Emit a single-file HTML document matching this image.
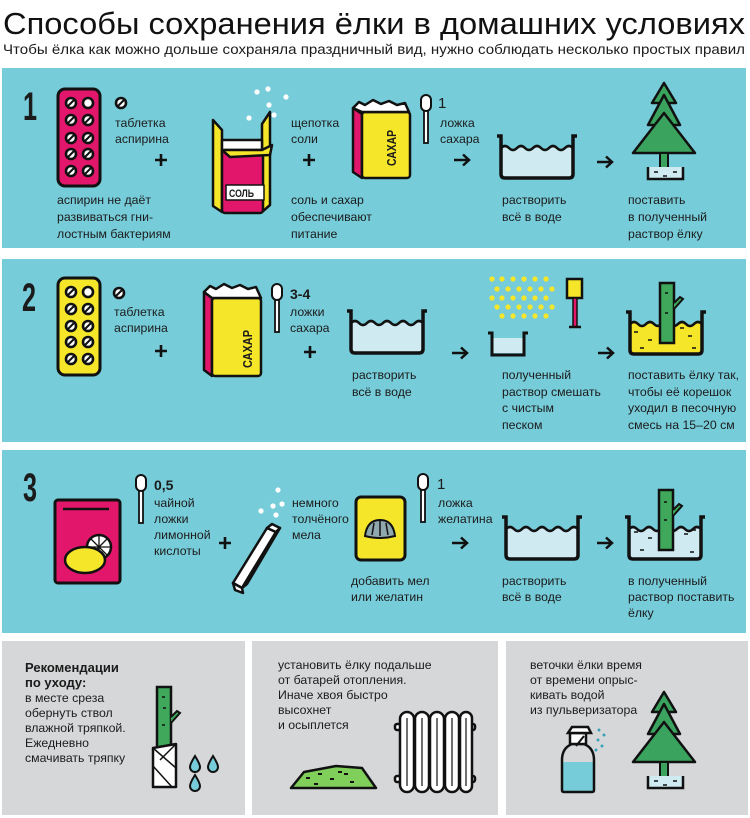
<!DOCTYPE html>
<html><head><meta charset="utf-8"><style>
html,body{margin:0;padding:0;background:#fff}
svg{display:block}
text{font-family:"Liberation Sans","Noto Sans CJK SC",sans-serif;fill:#1b1b1b}
.t{font-size:12.3px}
.n{font-size:40px;font-weight:bold}
</style></head><body>
<svg width="750" height="818" viewBox="0 0 750 818" xmlns="http://www.w3.org/2000/svg">
<defs>
<g id="pot">
<path d="M4,14 q4,-4 8,0 t8,0 t8,0 t8,0 t8,0 t8,0 t8,0 t8,0 t8,0 V40 q0,4 -4,4 H8 q-4,0 -4,-4 Z" fill="#cfeaf1"/>
<path d="M4,14 q4,-4 8,0 t8,0 t8,0 t8,0 t8,0 t8,0 t8,0 t8,0 t8,0" fill="none" stroke="#111" stroke-width="2.5"/>
<path d="M0,2 H4 V40 q0,4 4,4 H72 q4,0 4,-4 V2 H80" fill="none" stroke="#111" stroke-width="3.5"/>
</g>
<g id="potY">
<path d="M4,14 q4,-4 8,0 t8,0 t8,0 t8,0 t8,0 t8,0 t8,0 t8,0 t8,0 V40 q0,4 -4,4 H8 q-4,0 -4,-4 Z" fill="#f5e629"/>
<path d="M4,14 q4,-4 8,0 t8,0 t8,0 t8,0 t8,0 t8,0 t8,0 t8,0 t8,0" fill="none" stroke="#111" stroke-width="2.5"/>
<path d="M0,2 H4 V40 q0,4 4,4 H72 q4,0 4,-4 V2 H80" fill="none" stroke="#111" stroke-width="3.5"/>
</g>
<g id="spoon">
<rect x="0" y="0" width="10" height="16" rx="5" fill="#fff" stroke="#111" stroke-width="2"/>
<rect x="3" y="16" width="4" height="32" fill="#fff" stroke="#111" stroke-width="1.8"/>
</g>
<path id="arrow" d="M0,0 h15 M9,-5.5 l6,5.5 -6,5.5" fill="none" stroke="#111" stroke-width="2.5"/>
<path id="plus" d="M-6,0 h12 M0,-6 v12" fill="none" stroke="#111" stroke-width="2.6"/>
<g id="pill"><circle r="5" fill="#fff" stroke="#111" stroke-width="2.6"/><path d="M-3,3 L3,-3" stroke="#111" stroke-width="2"/></g>
<g id="tree">
<polygon points="31,0 19,20 43,20" fill="#3aa35e" stroke="#111" stroke-width="2.5" stroke-linejoin="round"/>
<polygon points="31,12 15,42 47,42" fill="#3aa35e" stroke="#111" stroke-width="2.5" stroke-linejoin="round"/>
<polygon points="31,30 0,70 62,70" fill="#3aa35e" stroke="#111" stroke-width="2.5" stroke-linejoin="round"/>
<rect x="27" y="70" width="8" height="16" fill="#3aa35e" stroke="#111" stroke-width="2"/>
<path d="M15,84 V96 H50 V84" fill="#cfeaf1" stroke="#111" stroke-width="2.5"/>
<path d="M21,89h4 M40,89h4 M30,93h4" stroke="#111" stroke-width="1.5"/>
</g>
</defs>

<text x="3" y="34" font-size="31" textLength="742" lengthAdjust="spacingAndGlyphs" style="fill:#111">Способы сохранения ёлки в домашних условиях</text>
<text x="3" y="54" font-size="14" textLength="742" lengthAdjust="spacingAndGlyphs">Чтобы ёлка как можно дольше сохраняла праздничный вид, нужно соблюдать несколько простых правил</text>

<rect x="2" y="68" width="744" height="180" fill="#77ccd9"/>
<rect x="2" y="259" width="744" height="183" fill="#77ccd9"/>
<rect x="2" y="450" width="744" height="183" fill="#77ccd9"/>
<rect x="2" y="641" width="243" height="174" fill="#d6d7d8"/>
<rect x="252" y="641" width="246" height="174" fill="#d6d7d8"/>
<rect x="506" y="641" width="242" height="174" fill="#d6d7d8"/>

<!-- PANEL 1 -->
<text x="23" y="120" class="n" textLength="14" lengthAdjust="spacingAndGlyphs">1</text>
<rect x="58" y="89" width="42" height="97" rx="7" fill="#e2166b" stroke="#111" stroke-width="3"/>
<g>
<use href="#pill" x="71" y="103"/><circle cx="88" cy="103" r="5" fill="#fff" stroke="#111" stroke-width="2.6"/>
<use href="#pill" x="71" y="120"/><use href="#pill" x="88" y="120"/>
<use href="#pill" x="71" y="138"/><use href="#pill" x="88" y="138"/>
<use href="#pill" x="71" y="154"/><use href="#pill" x="88" y="154"/>
<use href="#pill" x="71" y="171"/><use href="#pill" x="88" y="171"/>
</g>
<use href="#pill" x="121" y="103"/>
<text x="115" y="127" class="t">таблетка</text>
<text x="115" y="143" class="t">аспирина</text>
<use href="#plus" x="161" y="160"/>
<text x="57" y="204" class="t">аспирин не даёт</text>
<text x="57" y="221" class="t">развиваться гни-</text>
<text x="57" y="238" class="t">лостным бактериям</text>

<g stroke="#111" stroke-width="2.5" stroke-linejoin="round">
<polygon points="213,120 222,130 222,212 213,206" fill="#f5e629"/>
<polygon points="262,124 270,112 270,205 262,212" fill="#f5e629"/>
<rect x="222" y="140" width="40" height="14" fill="#fff"/>
<rect x="222" y="150" width="41" height="63" rx="3" fill="#e2166b"/>
<polygon points="222,150 262,150 272,145 270,155 230,157" fill="#f5e629"/>
<rect x="226" y="185" width="38" height="15" fill="#fff" stroke-width="1.5"/>
</g>
<text x="229" y="197" font-size="11" font-weight="bold" textLength="25" lengthAdjust="spacingAndGlyphs">СОЛЬ</text>
<g fill="#fff"><circle cx="257" cy="92" r="2.6"/><circle cx="268" cy="89" r="2.6"/><circle cx="286" cy="97" r="2.6"/><circle cx="269" cy="105" r="2.6"/><circle cx="274" cy="115" r="2.6"/><circle cx="249" cy="118" r="2.6"/></g>
<text x="291" y="127" class="t">щепотка</text>
<text x="291" y="143" class="t">соли</text>
<use href="#plus" x="309" y="160"/>
<text x="291" y="204" class="t">соль и сахар</text>
<text x="291" y="221" class="t">обеспечивают</text>
<text x="291" y="238" class="t">питание</text>

<g stroke="#111" stroke-width="2.5" stroke-linejoin="round">
<polygon points="353,108 362,114 362,178 353,172" fill="#e2166b"/>
<rect x="362" y="112" width="48" height="66" rx="3" fill="#f5e629"/>
<path d="M353,108 l6,-6 l6,3 l8,-5 l8,4 l8,-3 l8,4 l8,-2 l4,9 h-47 z" fill="#fff"/>
</g>
<text transform="translate(396,166) rotate(-90)" font-size="13" font-weight="bold" textLength="36" lengthAdjust="spacingAndGlyphs">САХАР</text>
<use href="#spoon" x="421" y="95"/>
<text x="438" y="108" font-size="15">1</text>
<text x="440" y="127" class="t">ложка</text>
<text x="440" y="143" class="t">сахара</text>
<use href="#arrow" x="454" y="160"/>
<use href="#pot" x="497" y="134"/>
<text x="502" y="204" class="t">растворить</text>
<text x="502" y="221" class="t">всё в воде</text>
<use href="#arrow" x="597" y="162"/>
<use href="#tree" x="633" y="83"/>
<text x="628" y="204" class="t">поставить</text>
<text x="628" y="221" class="t">в полученный</text>
<text x="628" y="238" class="t">раствор ёлку</text>

<!-- PANEL 2 -->
<text x="22" y="311" class="n" font-size="34" textLength="14" lengthAdjust="spacingAndGlyphs">2</text>
<rect x="58" y="278" width="42" height="97" rx="7" fill="#f5e629" stroke="#111" stroke-width="3"/>
<use href="#pill" x="71" y="292"/><circle cx="88" cy="292" r="5" fill="#fff" stroke="#111" stroke-width="2.6"/>
<use href="#pill" x="71" y="309"/><use href="#pill" x="88" y="309"/>
<use href="#pill" x="71" y="326"/><use href="#pill" x="88" y="326"/>
<use href="#pill" x="71" y="342"/><use href="#pill" x="88" y="342"/>
<use href="#pill" x="71" y="359"/><use href="#pill" x="88" y="359"/>
<use href="#pill" x="119" y="293"/>
<text x="114" y="316" class="t">таблетка</text>
<text x="114" y="332" class="t">аспирина</text>
<use href="#plus" x="161" y="351"/>
<g stroke="#111" stroke-width="2.5" stroke-linejoin="round">
<polygon points="204,292 212,298 212,376 204,370" fill="#e2166b"/>
<rect x="212" y="298" width="49" height="78" rx="3" fill="#f5e629"/>
<path d="M204,292 l6,-6 l6,3 l8,-5 l8,4 l8,-3 l8,4 l8,-2 l5,11 h-49 z" fill="#fff"/>
</g>
<text transform="translate(252,368) rotate(-90)" font-size="13" font-weight="bold" textLength="38" lengthAdjust="spacingAndGlyphs">САХАР</text>
<use href="#spoon" x="272" y="284"/>
<text x="290" y="299" font-size="14" font-weight="bold">3-4</text>
<text x="290" y="316" class="t">ложки</text>
<text x="290" y="332" class="t">сахара</text>
<use href="#plus" x="310" y="352"/>
<use href="#pot" x="347" y="309"/>
<text x="352" y="379" class="t">растворить</text>
<text x="352" y="396" class="t">всё в воде</text>
<use href="#arrow" x="452" y="353"/>
<g fill="#f5e629">
<circle cx="492" cy="279" r="2.6"/><circle cx="502" cy="279" r="2.6"/><circle cx="513" cy="279" r="2.6"/><circle cx="524" cy="279" r="2.6"/><circle cx="535" cy="279" r="2.6"/><circle cx="546" cy="279" r="2.6"/>
<circle cx="497" cy="289" r="2.6"/><circle cx="508" cy="289" r="2.6"/><circle cx="519" cy="289" r="2.6"/><circle cx="530" cy="289" r="2.6"/><circle cx="541" cy="289" r="2.6"/><circle cx="552" cy="289" r="2.6"/>
<circle cx="492" cy="298" r="2.6"/><circle cx="502" cy="298" r="2.6"/><circle cx="513" cy="298" r="2.6"/><circle cx="524" cy="298" r="2.6"/><circle cx="535" cy="298" r="2.6"/><circle cx="546" cy="298" r="2.6"/>
<circle cx="497" cy="307" r="2.6"/><circle cx="508" cy="307" r="2.6"/><circle cx="519" cy="307" r="2.6"/><circle cx="530" cy="307" r="2.6"/><circle cx="541" cy="307" r="2.6"/><circle cx="552" cy="307" r="2.6"/>
<circle cx="502" cy="316" r="2.6"/><circle cx="513" cy="316" r="2.6"/><circle cx="524" cy="316" r="2.6"/><circle cx="535" cy="316" r="2.6"/><circle cx="546" cy="316" r="2.6"/>
</g>
<rect x="567" y="279" width="15" height="19" fill="#f5e629" stroke="#111" stroke-width="2.5"/>
<rect x="573" y="298" width="4" height="29" fill="#e2166b" stroke="#111" stroke-width="1.5"/>
<path d="M569,327 h12" stroke="#111" stroke-width="2.5"/>
<rect x="492" y="338" width="31" height="15" fill="#cfeaf1"/>
<path d="M488,333 H492 V355 H524 V333 H528" fill="none" stroke="#111" stroke-width="3"/>
<text x="502" y="379" class="t">полученный</text>
<text x="502" y="396" class="t">раствор смешать</text>
<text x="502" y="412" class="t">с чистым</text>
<text x="502" y="429" class="t">песком</text>
<use href="#arrow" x="598" y="353"/>
<use href="#potY" x="626" y="310"/>
<path d="M634,332h4 M648,340h4 M640,348h4 M688,336h4 M692,348h4 M680,328h4" stroke="#111" stroke-width="1.5"/>
<rect x="660" y="283" width="14" height="60" fill="#3fa85a" stroke="#111" stroke-width="2.5"/>
<path d="M674,303 l6,-6 l3,2 l-9,10" fill="#3fa85a" stroke="#111" stroke-width="2"/>
<path d="M665,293h3 M665,313h3" stroke="#111" stroke-width="1.5"/>
<text x="628" y="379" class="t">поставить ёлку так,</text>
<text x="628" y="396" class="t">чтобы её корешок</text>
<text x="628" y="412" class="t">уходил в песочную</text>
<text x="628" y="429" class="t">смесь на 15–20 см</text>

<!-- PANEL 3 -->
<text x="23" y="501" class="n" font-size="34" textLength="14" lengthAdjust="spacingAndGlyphs">3</text>
<rect x="55" y="500" width="65" height="83" rx="3" fill="#e2166b" stroke="#111" stroke-width="3"/>
<path d="M63,509 h46" stroke="#111" stroke-width="2.5"/>
<circle cx="99" cy="547" r="12" fill="#fff" stroke="#111" stroke-width="2.5"/>
<path d="M99,535v24 M87,547h24 M91,539l16,16 M107,539l-16,16" stroke="#111" stroke-width="1.3"/>
<ellipse cx="85" cy="560" rx="20" ry="13" fill="#f5e629" stroke="#111" stroke-width="2.5"/>
<use href="#spoon" x="136" y="475"/>
<text x="154" y="490" font-size="14" font-weight="bold">0,5</text>
<text x="154" y="507" class="t">чайной</text>
<text x="154" y="523" class="t">ложки</text>
<text x="154" y="539" class="t">лимонной</text>
<text x="154" y="555" class="t">кислоты</text>
<use href="#plus" x="225" y="543"/>
<g stroke="#111" stroke-width="2.5" stroke-linejoin="round" fill="#fff">
<polygon points="233,583 267,528 276,532 242,588"/>
<polygon points="267,528 272,524 280,528 276,532"/>
<polygon points="276,532 280,528 247,584 242,588"/>
<polygon points="233,583 242,588 243,593 235,590" />
</g>
<g fill="#fff"><circle cx="278" cy="490" r="2.6"/><circle cx="282" cy="504" r="2.6"/><circle cx="273" cy="506" r="2.6"/><circle cx="261" cy="511" r="2.6"/><circle cx="276" cy="515" r="2.6"/></g>
<text x="292" y="507" class="t">немного</text>
<text x="292" y="523" class="t">толчёного</text>
<text x="292" y="539" class="t">мела</text>
<rect x="356" y="497" width="49" height="63" rx="5" fill="#f5e629" stroke="#111" stroke-width="3"/>
<path d="M365,536 q2,-16 15,-16 q13,0 15,16 q-15,4 -30,0z" fill="#8fa8ae" stroke="#111" stroke-width="2"/>
<path d="M372,535 l2,-12 M380,536 v-15 M388,535 l-2,-12" stroke="#111" stroke-width="1.5"/>
<use href="#spoon" x="418" y="474"/>
<text x="437" y="489" font-size="15">1</text>
<text x="438" y="507" class="t">ложка</text>
<text x="438" y="523" class="t">желатина</text>
<text x="351" y="585" class="t">добавить мел</text>
<text x="351" y="601" class="t">или желатин</text>
<use href="#arrow" x="452" y="543"/>
<use href="#pot" x="502" y="515"/>
<text x="502" y="585" class="t">растворить</text>
<text x="502" y="601" class="t">всё в воде</text>
<use href="#arrow" x="597" y="543"/>
<use href="#pot" x="625" y="515"/>
<path d="M634,532h4 M648,538h4 M640,550h4 M684,534h4 M692,530h4 M690,552h4" stroke="#111" stroke-width="1.5"/>
<rect x="659" y="490" width="14" height="60" fill="#3fa85a" stroke="#111" stroke-width="2.5"/>
<path d="M673,510 l6,-6 l3,2 l-9,10" fill="#3fa85a" stroke="#111" stroke-width="2"/>
<path d="M664,502h3 M664,520h3" stroke="#111" stroke-width="1.5"/>
<text x="628" y="585" class="t">в полученный</text>
<text x="628" y="601" class="t">раствор поставить</text>
<text x="628" y="617" class="t">ёлку</text>

<!-- BOTTOM 1 -->
<text x="25" y="672" font-size="13" font-weight="bold">Рекомендации</text>
<text x="25" y="687" font-size="13" font-weight="bold">по уходу:</text>
<text x="25" y="702" class="t">в месте среза</text>
<text x="25" y="717" class="t">обернуть ствол</text>
<text x="25" y="732" class="t">влажной тряпкой.</text>
<text x="25" y="747" class="t">Ежедневно</text>
<text x="25" y="762" class="t">смачивать тряпку</text>
<rect x="157" y="687" width="14" height="70" fill="#3fa85a" stroke="#111" stroke-width="2.5"/>
<path d="M171,717 l6,-6 l3,2 l-9,10" fill="#3fa85a" stroke="#111" stroke-width="2"/>
<path d="M162,697h3 M163,708h3 M162,725h3" stroke="#111" stroke-width="1.5"/>
<polygon points="153,748 176,744 176,787 153,787" fill="#fff" stroke="#111" stroke-width="2.5" stroke-linejoin="round"/>
<path d="M153,748 L176,768 M153,766 L172,787 M176,744 L160,760" stroke="#111" stroke-width="1.5"/>
<g fill="#77ccd9" stroke="#111" stroke-width="2">
<path d="M195,756 q-5,8 -5,11 a5,5 0 0 0 10,0 q0,-3 -5,-11z"/>
<path d="M213,756 q-5,8 -5,11 a5,5 0 0 0 10,0 q0,-3 -5,-11z"/>
<path d="M195,775 q-5,8 -5,11 a5,5 0 0 0 10,0 q0,-3 -5,-11z"/>
</g>

<!-- BOTTOM 2 -->
<text x="278" y="669" class="t">установить ёлку подальше</text>
<text x="278" y="684" class="t">от батарей отопления.</text>
<text x="278" y="699" class="t">Иначе хвоя быстро</text>
<text x="278" y="714" class="t">высохнет</text>
<text x="278" y="729" class="t">и осыплется</text>
<polygon points="291,788 304,772 336,766 362,768 376,788" fill="#7fcf5a" stroke="#111" stroke-width="2.5" stroke-linejoin="round"/>
<path d="M306,778h4 M318,774h4 M330,779h4 M344,774h4 M350,782h4 M314,784h4 M338,772h4" stroke="#111" stroke-width="2"/>
<g stroke="#111" stroke-width="2.5" fill="#fff">
<rect x="395" y="724" width="80" height="6" rx="2"/>
<rect x="395" y="776" width="80" height="6" rx="2"/>
<rect x="400" y="712" width="14" height="80" rx="7"/>
<rect x="415" y="712" width="14" height="80" rx="7"/>
<rect x="430" y="712" width="14" height="80" rx="7"/>
<rect x="445" y="712" width="14" height="80" rx="7"/>
<rect x="460" y="712" width="12" height="80" rx="6"/>
</g>
<path d="M407,718v68 M422,718v68 M437,718v68 M452,718v68 M466,718v68" stroke="#111" stroke-width="1.2"/>

<!-- BOTTOM 3 -->
<text x="530" y="669" class="t">веточки ёлки время</text>
<text x="530" y="684" class="t">от времени опрыс-</text>
<text x="530" y="699" class="t">кивать водой</text>
<text x="530" y="714" class="t">из пульверизатора</text>
<path d="M562,762 h32 V790 q0,2 -2,2 h-28 q-2,0 -2,-2z" fill="#77ccd9"/>
<path d="M562,790 V760 q0,-12 10,-16 h12 q10,4 10,16 V790 q0,2 -2,2 h-28 q-2,0 -2,-2z" fill="none" stroke="#111" stroke-width="2.5"/>
<rect x="570" y="733" width="16" height="11" fill="#fff" stroke="#111" stroke-width="2.5"/>
<path d="M568,733 l4,-6 h16 l3,6z" fill="#fff" stroke="#111" stroke-width="2.5"/>
<path d="M584,736 l-8,10" stroke="#111" stroke-width="2"/>
<g fill="#3aa0b8"><circle cx="599" cy="730" r="1.5"/><circle cx="604" cy="735" r="1.5"/><circle cx="598" cy="740" r="1.5"/><circle cx="602" cy="746" r="1.5"/><circle cx="596" cy="750" r="1.5"/></g>
<use href="#tree" x="633" y="692"/>
</svg>
</body></html>
